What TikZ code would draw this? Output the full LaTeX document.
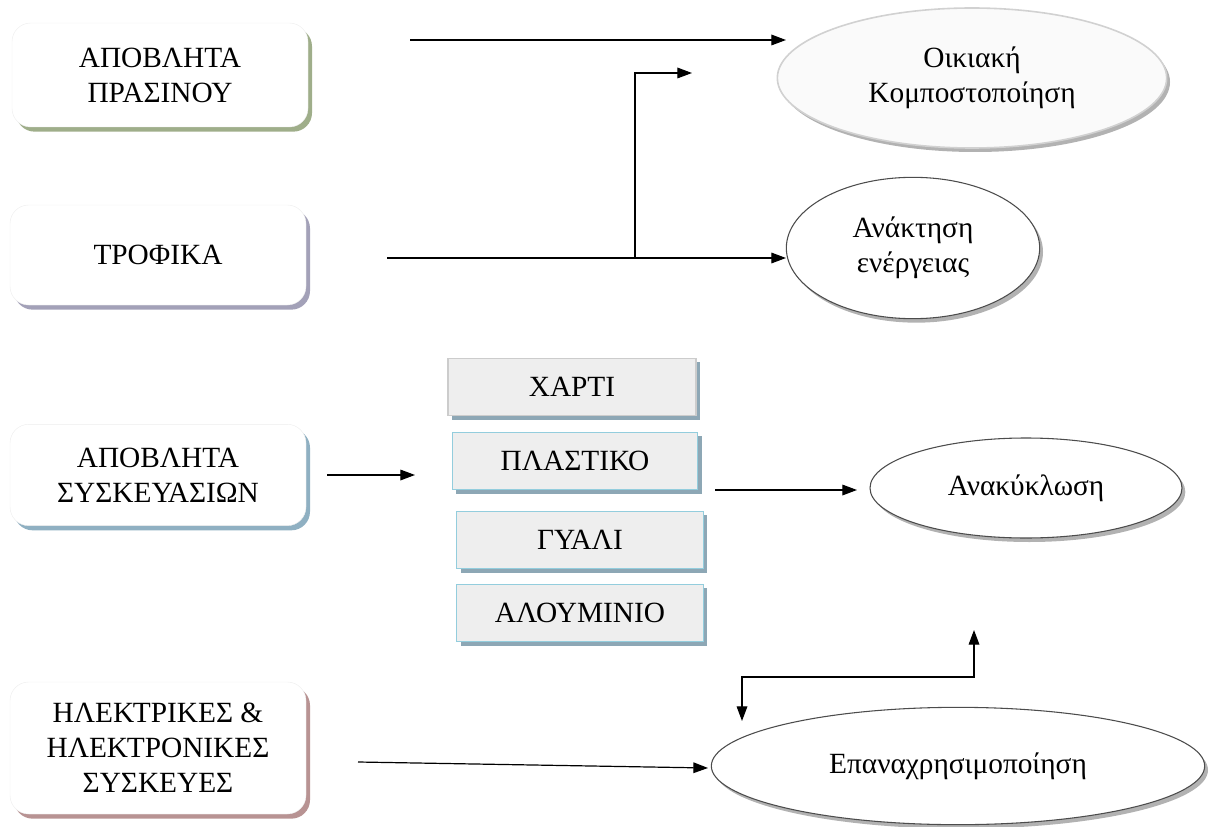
\documentclass[tikz,border=0pt]{standalone}
\usepackage{fontspec}
\setmainfont{Liberation Serif}
\usetikzlibrary{arrows.meta,shadows,shapes.geometric}
\definecolor{shgreen}{HTML}{9FAE8A}
\definecolor{shpurple}{HTML}{A3A1B8}
\definecolor{shblue}{HTML}{8FB0C2}
\definecolor{shred}{HTML}{B89393}
\definecolor{lblue}{HTML}{93CDDD}
\definecolor{boxfill}{HTML}{EEEEEE}
\definecolor{boxsh}{HTML}{8DA7B5}
\tikzset{
  every node/.style={font=\fontsize{22}{26.3}\selectfont, align=center},
  leftbox/.style={rounded corners=14pt, fill=white, draw=white!93!black, line width=0.3pt,
     minimum width=222pt, minimum height=78pt, inner sep=0pt},
  lsh/.style={drop shadow={shadow xshift=3pt, shadow yshift=-3.5pt, fill=#1, opacity=1}},
  matbox/.style={fill=boxfill, draw=lblue, line width=1.2pt, minimum width=184pt,
     minimum height=43pt, inner sep=0pt,
     drop shadow={shadow xshift=3pt, shadow yshift=-3pt, fill=boxsh, opacity=1}},
  ell/.style={ellipse, draw=black!70, line width=0.8pt, fill=white, inner sep=0pt,
     drop shadow={shadow xshift=2.5pt, shadow yshift=-3pt, fill=black!30, opacity=1}},
  arr/.style={-{Triangle[length=11pt,width=8pt]}, line width=0.9pt},
  darr/.style={{Triangle[length=11pt,width=8pt]}-{Triangle[length=11pt,width=8pt]}, line width=0.9pt},
}
\begin{document}
\begin{tikzpicture}[x=0.75pt,y=-0.75pt]
\useasboundingbox (0,0) rectangle (1209,827);
% left boxes
\node[leftbox, lsh=shgreen, minimum height=78pt] (b1) at (160,75) {ΑΠΟΒΛΗΤΑ\\ΠΡΑΣΙΝΟΥ};
\node[leftbox, lsh=shpurple, minimum height=75pt] (b2) at (158,255) {ΤΡΟΦΙΚΑ};
\node[leftbox, lsh=shblue, minimum height=76pt] (b3) at (158,475) {ΑΠΟΒΛΗΤΑ\\ΣΥΣΚΕΥΑΣΙΩΝ};
\node[leftbox, lsh=shred, minimum height=99pt] (b4) at (158,748) {ΗΛΕΚΤΡΙΚΕΣ \&\\ΗΛΕΚΤΡΟΝΙΚΕΣ\\ΣΥΣΚΕΥΕΣ};
% material boxes
\node[matbox, draw=black!20, minimum width=186pt] (m1) at (572,387) {ΧΑΡΤΙ};
\node[matbox] (m2) at (575,461) {ΠΛΑΣΤΙΚΟ};
\node[matbox, minimum width=185pt] (m3) at (580,540) {ΓΥΑΛΙ};
\node[matbox, minimum width=185pt] (m4) at (580,613) {ΑΛΟΥΜΙΝΙΟ};
% ellipses
\node[ell, draw=black!18, line width=1.2pt, fill=black!2, minimum width=292pt, minimum height=105pt] (e1) at (972,78) {Οικιακή\\Κομποστοποίηση};
\node[ell, minimum width=190pt, minimum height=106pt] (e2) at (913,248) {Ανάκτηση\\ενέργειας};
\node[ell, minimum width=234pt, minimum height=75pt] (e3) at (1026,488) {Ανακύκλωση};
\node[ell, minimum width=370pt, minimum height=88pt] (e4) at (958,766) {Επαναχρησιμοποίηση};
% connector points
\coordinate (s1) at (410,40);
\coordinate (t1) at (786,40);
\coordinate (s2) at (387,258);
\coordinate (t2) at (786,258);
\coordinate (j2) at (635,258);
\coordinate (t2b) at (692,73);
\coordinate (s3) at (327,475);
\coordinate (t3) at (415,475);
\coordinate (s4) at (715,490);
\coordinate (t4) at (857,490);
\coordinate (s5) at (358,762);
\coordinate (t5) at (708,768);
\coordinate (d1) at (742,721);
\coordinate (d2) at (974,630);
% connectors
\draw[arr] (s1) -- (t1);
\draw[arr] (s2) -- (t2);
\draw[arr] (j2) |- (t2b);
\draw[arr] (s3) -- (t3);
\draw[arr] (s4) -- (t4);
\draw[arr] (s5) -- (t5);
\draw[darr] (d1) -- (742,677) -| (d2);
\end{tikzpicture}
\end{document}
